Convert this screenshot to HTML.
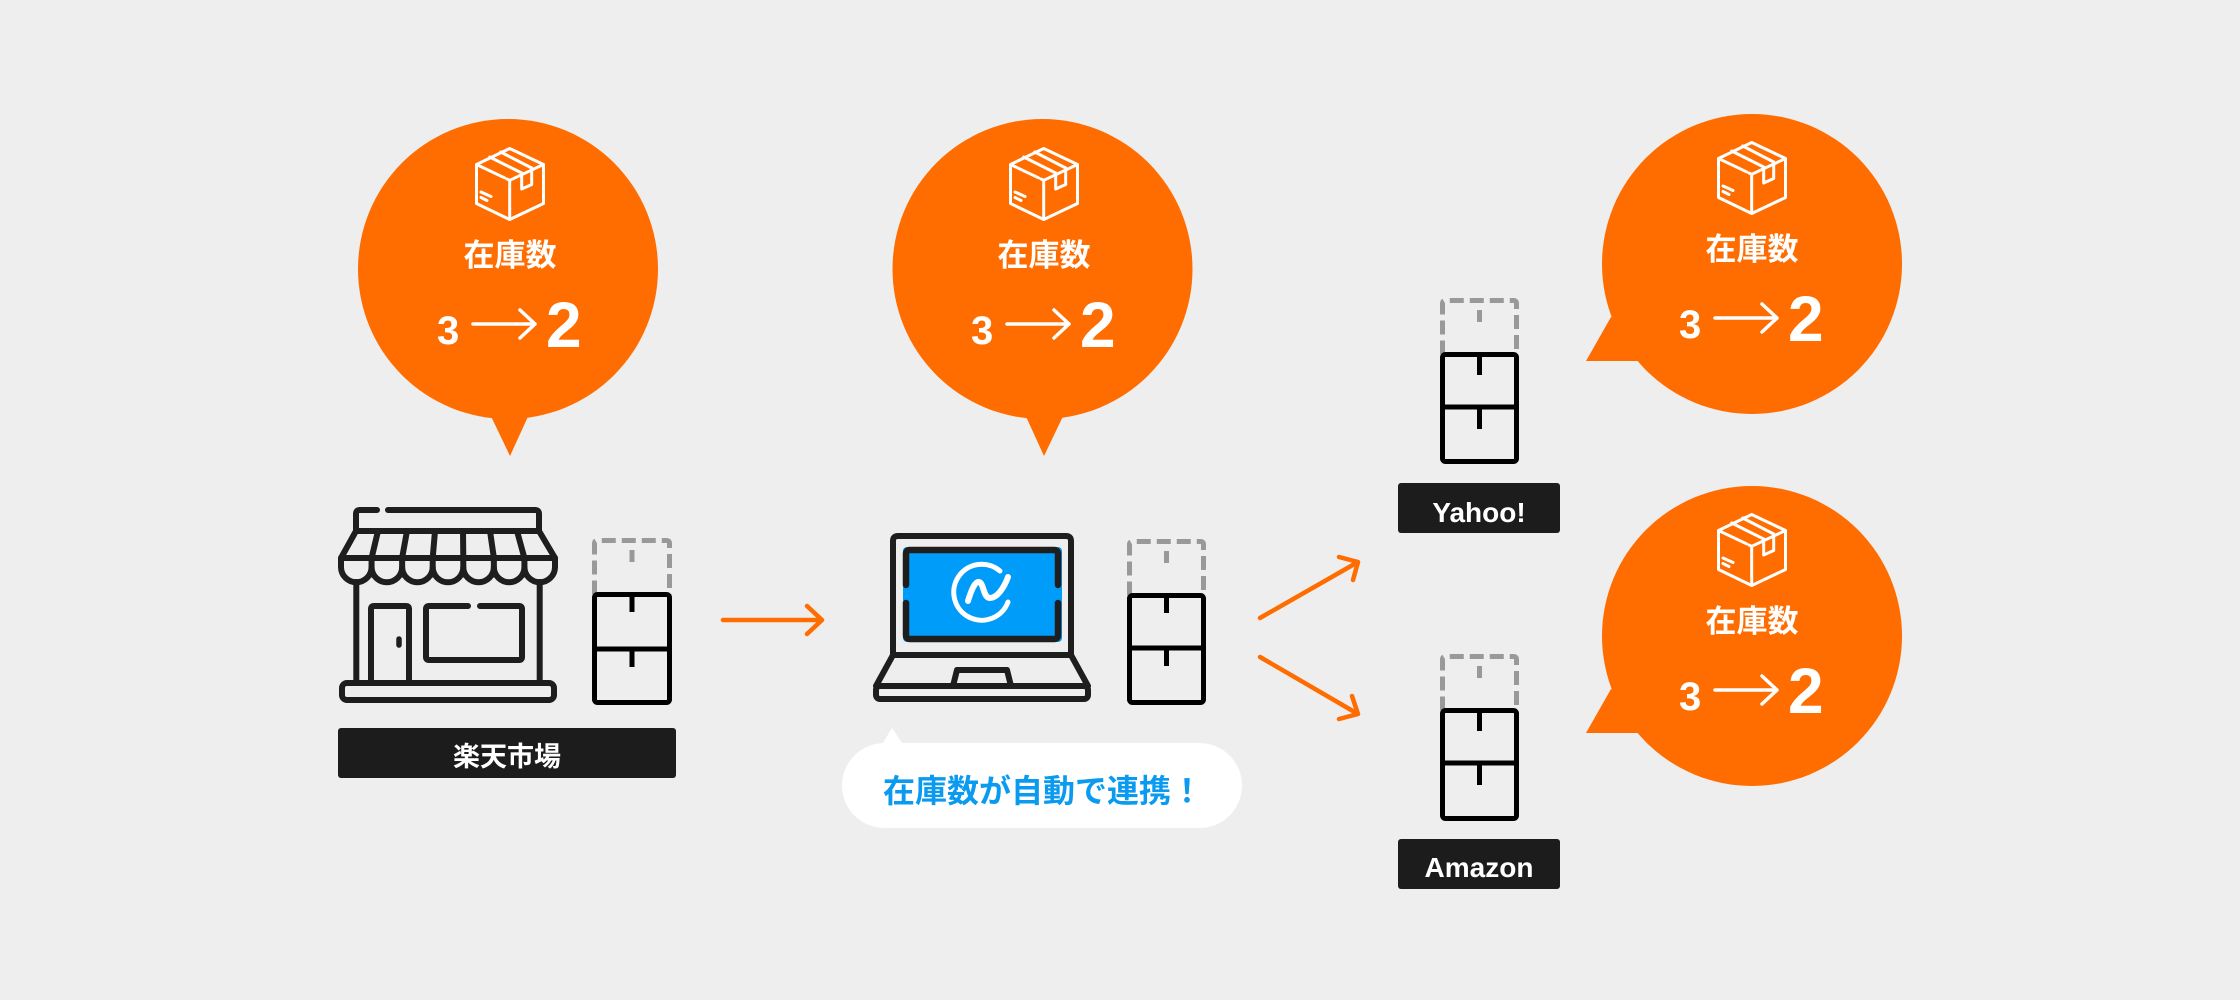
<!DOCTYPE html>
<html>
<head>
<meta charset="utf-8">
<style>
  html, body { margin:0; padding:0; background:#eeeeee; }
  body { width:2240px; height:1000px; overflow:hidden; }
  svg { display:block; }
  text { font-family: "Liberation Sans", "Noto Sans CJK JP", sans-serif; }
</style>
</head>
<body>
<svg width="2240" height="1000" viewBox="0 0 2240 1000" xmlns="http://www.w3.org/2000/svg">
  <defs>
    <g id="boxicon" fill="none" stroke="#ffffff" stroke-width="3" stroke-linejoin="round" stroke-linecap="round">
      <path d="M34.7,1.5 L68.5,17.5 L68.5,56.5 L34.7,72.5 L1.5,56.5 L1.5,17.5 Z"/>
      <path d="M1.5,17.5 L29.5,30.8 M32,32 L34.7,33.3 L68.5,17.5 M34.7,33.3 L34.7,72.5"/>
      <path d="M14.7,10 L46.7,26 M25.7,5 L56.7,21"/>
      <path d="M46.7,26 L46.7,42 L56.7,37.5 L56.7,21"/>
      <path d="M6,45 L16,49.5 M6,50.5 L12,53.5"/>
    </g>
  </defs>

  <rect x="0" y="0" width="2240" height="1000" fill="#eeeeee"/>

  <!-- ===== Bubble 1 (Rakuten) ===== -->
  <g>
    <circle cx="508" cy="269" r="150" fill="#ff6c00"/>
    <polygon points="488,410 510,456 531,410" fill="#ff6c00"/>
    <use href="#boxicon" x="475" y="147"/>
    <text x="510" y="266" font-size="31" font-weight="700" fill="#fff" text-anchor="middle">在庫数</text>
    <text x="437" y="344" font-size="40" font-weight="700" fill="#fff">3</text>
    <path d="M473,324 L535,324 M520,310 L535,324 L520,338" fill="none" stroke="#fff" stroke-width="3.5" stroke-linecap="round" stroke-linejoin="round"/>
    <text x="546" y="347" font-size="64" font-weight="700" fill="#fff">2</text>
  </g>

  <!-- ===== Bubble 2 (middle) ===== -->
  <g>
    <circle cx="1042.5" cy="269" r="150" fill="#ff6c00"/>
    <polygon points="1023,410 1044,456 1066,410" fill="#ff6c00"/>
    <use href="#boxicon" x="1009" y="147"/>
    <text x="1044" y="266" font-size="31" font-weight="700" fill="#fff" text-anchor="middle">在庫数</text>
    <text x="971" y="344" font-size="40" font-weight="700" fill="#fff">3</text>
    <path d="M1007,324 L1069,324 M1054,310 L1069,324 L1054,338" fill="none" stroke="#fff" stroke-width="3.5" stroke-linecap="round" stroke-linejoin="round"/>
    <text x="1080" y="347" font-size="64" font-weight="700" fill="#fff">2</text>
  </g>

  <!-- ===== Bubble 3 (Yahoo) ===== -->
  <g>
    <circle cx="1752" cy="264" r="150" fill="#ff6c00"/>
    <polygon points="1611,317 1586,361 1638,361 1660,330" fill="#ff6c00"/>
    <use href="#boxicon" x="1717" y="141"/>
    <text x="1752" y="260" font-size="31" font-weight="700" fill="#fff" text-anchor="middle">在庫数</text>
    <text x="1679" y="338" font-size="40" font-weight="700" fill="#fff">3</text>
    <path d="M1715,318 L1777,318 M1762,304 L1777,318 L1762,332" fill="none" stroke="#fff" stroke-width="3.5" stroke-linecap="round" stroke-linejoin="round"/>
    <text x="1788" y="341" font-size="64" font-weight="700" fill="#fff">2</text>
  </g>

  <!-- ===== Bubble 4 (Amazon) ===== -->
  <g>
    <circle cx="1752" cy="636" r="150" fill="#ff6c00"/>
    <polygon points="1611,689 1586,733 1638,733 1660,702" fill="#ff6c00"/>
    <use href="#boxicon" x="1717" y="513"/>
    <text x="1752" y="632" font-size="31" font-weight="700" fill="#fff" text-anchor="middle">在庫数</text>
    <text x="1679" y="710" font-size="40" font-weight="700" fill="#fff">3</text>
    <path d="M1715,690 L1777,690 M1762,676 L1777,690 L1762,704" fill="none" stroke="#fff" stroke-width="3.5" stroke-linecap="round" stroke-linejoin="round"/>
    <text x="1788" y="713" font-size="64" font-weight="700" fill="#fff">2</text>
  </g>

  <!-- ===== Store icon ===== -->
  <g fill="none" stroke="#1e1e1e" stroke-width="6" stroke-linecap="round" stroke-linejoin="round">
    <path d="M356,530 L356,514 Q356,510 360,510 L377,510 M388,510 L535,510 Q539,510 539,514 L539,530"/>
    <path d="M356,531 L539,531 L555,558 L341,558 Z"/>
    <path d="M378,531 L371.6,558 M407,531 L402.1,558 M435,531 L432.7,558 M463,531 L463.3,558 M490,531 L493.9,558 M517,531 L524.4,558"/>
    <path d="M341,558 V567 A15.28,15.28 0 0 0 371.57,567 A15.28,15.28 0 0 0 402.14,567 A15.28,15.28 0 0 0 432.71,567 A15.28,15.28 0 0 0 463.29,567 A15.28,15.28 0 0 0 493.86,567 A15.28,15.28 0 0 0 524.43,567 A15.28,15.28 0 0 0 555,567 V558"/>
    <path d="M371.57,558 V567 M402.14,558 V567 M432.71,558 V567 M463.29,558 V567 M493.86,558 V567 M524.43,558 V567"/>
    <path d="M356.3,582 V680 M539.7,582 V680"/>
    <path d="M371,680 V609 Q371,606 374,606 L406,606 Q409,606 409,609 V680"/>
    <path d="M399,639 V645" stroke-width="5.5"/>
    <path d="M468,606 L429,606 Q426,606 426,609 V657 Q426,660 429,660 L519,660 Q522,660 522,657 V609 Q522,606 519,606 L480,606"/>
    <rect x="342" y="683" width="212" height="17" rx="5"/>
  </g>

  <!-- ===== Stacks ===== -->
  <!-- Store stack -->
  <g fill="none" stroke-linecap="butt">
    <path d="M594.5,594.5 L594.5,543.5 Q594.5,540.5 597.5,540.5 L666.5,540.5 Q669.5,540.5 669.5,543.5 L669.5,594.5" stroke="#999" stroke-width="5" stroke-dasharray="14 6"/>
    <path d="M632,550 V562" stroke="#999" stroke-width="5"/>
    <rect x="594.5" y="594.5" width="75" height="108" rx="3" stroke="#000" stroke-width="5"/>
    <path d="M594.5,649 H669.5 M632,594.5 V612 M632,649 V667" stroke="#000" stroke-width="5"/>
  </g>
  <!-- Laptop stack -->
  <g fill="none">
    <path d="M1129.5,595.5 L1129.5,544.5 Q1129.5,541.5 1132.5,541.5 L1200.5,541.5 Q1203.5,541.5 1203.5,544.5 L1203.5,595.5" stroke="#999" stroke-width="5" stroke-dasharray="14 6"/>
    <path d="M1166.5,551 V563" stroke="#999" stroke-width="5"/>
    <rect x="1129.5" y="595.5" width="74" height="107" rx="3" stroke="#000" stroke-width="5"/>
    <path d="M1129.5,648 H1203.5 M1166.5,595.5 V613 M1166.5,648 V666" stroke="#000" stroke-width="5"/>
  </g>
  <!-- Yahoo stack -->
  <g fill="none">
    <path d="M1442.5,354.5 L1442.5,303.5 Q1442.5,300.5 1445.5,300.5 L1513.5,300.5 Q1516.5,300.5 1516.5,303.5 L1516.5,354.5" stroke="#999" stroke-width="5" stroke-dasharray="14 6"/>
    <path d="M1479.5,310 V322" stroke="#999" stroke-width="5"/>
    <rect x="1442.5" y="354.5" width="74" height="107" rx="3" stroke="#000" stroke-width="5"/>
    <path d="M1442.5,407 H1516.5 M1479.5,354.5 V375 M1479.5,407 V429" stroke="#000" stroke-width="5"/>
  </g>
  <!-- Amazon stack -->
  <g fill="none">
    <path d="M1442.5,710.5 L1442.5,659.5 Q1442.5,656.5 1445.5,656.5 L1513.5,656.5 Q1516.5,656.5 1516.5,659.5 L1516.5,710.5" stroke="#999" stroke-width="5" stroke-dasharray="14 6"/>
    <path d="M1479.5,666 V678" stroke="#999" stroke-width="5"/>
    <rect x="1442.5" y="710.5" width="74" height="108" rx="3" stroke="#000" stroke-width="5"/>
    <path d="M1442.5,763 H1516.5 M1479.5,710.5 V731 M1479.5,763 V785" stroke="#000" stroke-width="5"/>
  </g>

  <!-- ===== Laptop ===== -->
  <g>
    <rect x="903" y="547" width="159" height="95" rx="4" fill="#009cfa"/>
    <g fill="none" stroke="#1e1e1e" stroke-width="6" stroke-linecap="round" stroke-linejoin="round">
      <path d="M893,654 V541 Q893,536 898,536 L1066,536 Q1071,536 1071,541 V654"/>
      <path d="M893,655 H1071 M893,655 L876,686 M1071,655 L1088,686"/>
      <rect x="876" y="686" width="212" height="13" rx="4"/>
      <path d="M953,686 L957,670 L1007,670 L1011,686"/>
      <path d="M906,585 L906,554 Q906,550 910,550 L1054,550 Q1058,550 1058,554 L1058,585" stroke-width="6.5"/>
      <path d="M906,603 L906,635 Q906,639 910,639 L1054,639 Q1058,639 1058,635 L1058,603" stroke-width="6.5"/>
    </g>
    <g fill="none" stroke="#ffffff" stroke-linecap="round" stroke-linejoin="round">
      <path d="M1000,571 A28,28 0 1 0 1008,602" stroke-width="5"/>
      <path d="M968,601 C971,591 975,581 979,582 C984,583 983,598 990,598 C997,598 1004,588 1008,577" stroke-width="6"/>
    </g>
  </g>

  <!-- ===== Connector arrows ===== -->
  <g fill="none" stroke="#ff6c00" stroke-width="4.5" stroke-linecap="round" stroke-linejoin="round">
    <path d="M723,620 L822,620 M807,606 L822,620 L807,634"/>
    <path d="M1260,618 L1358,562 M1339,557 L1358,562 L1353,580"/>
    <path d="M1260,657 L1358,714 M1352,696 L1358,714 L1339,719"/>
  </g>

  <!-- ===== Labels ===== -->
  <rect x="338" y="728" width="338" height="50" rx="3" fill="#1c1c1c"/>
  <text x="507" y="766" font-size="27" font-weight="700" fill="#fff" text-anchor="middle">楽天市場</text>

  <rect x="1398" y="483" width="162" height="50" rx="3" fill="#1c1c1c"/>
  <text x="1479" y="522" font-size="28" font-weight="700" fill="#fff" text-anchor="middle">Yahoo!</text>

  <rect x="1398" y="839" width="162" height="50" rx="3" fill="#1c1c1c"/>
  <text x="1479" y="877" font-size="28" font-weight="700" fill="#fff" text-anchor="middle">Amazon</text>

  <!-- ===== White pill ===== -->
  <rect x="842" y="743" width="400" height="85" rx="42.5" fill="#ffffff"/>
  <polygon points="881,746 892,728 904,746" fill="#ffffff"/>
  <text x="1043" y="802" font-size="32" font-weight="700" fill="#0a9bf0" text-anchor="middle">在庫数が自動で連携！</text>
</svg>
</body>
</html>
